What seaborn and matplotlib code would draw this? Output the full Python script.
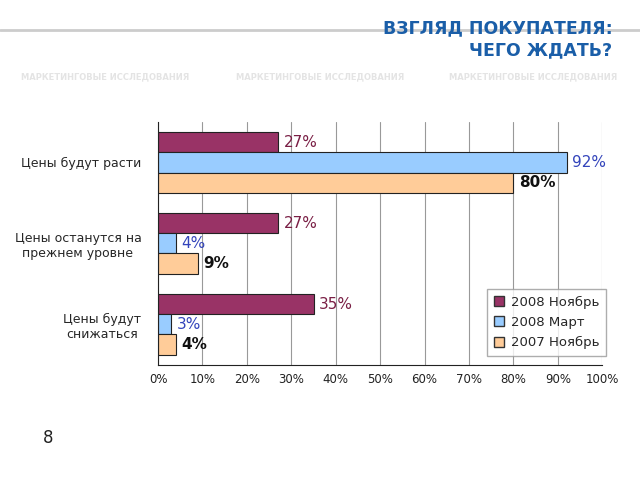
import pandas as pd
import matplotlib.pyplot as plt
import seaborn as sns
from matplotlib.ticker import FixedLocator, PercentFormatter
from matplotlib.patches import Patch

# data
categories = ['Цены будут расти', 'Цены останутся на\nпрежнем уровне', 'Цены будут\nснижаться']
series = ['2008 Ноябрь', '2008 Март', '2007 Ноябрь']
nov_2008 = [27, 27, 35]
mar_2008 = [92, 4, 3]
nov_2007 = [80, 9, 4]

colors = ['#993366', '#99CCFF', '#FFCC99']
label_colors = ['#7a1f45', '#3344bb', '#111111']

rows = []
for s, vals in zip(series, [nov_2008, mar_2008, nov_2007]):
    for c, v in zip(categories, vals):
        rows.append({'category': c, 'series': s, 'value': v})
df = pd.DataFrame(rows)

sns.set_style('white')
plt.rcParams['font.family'] = ['DejaVu Sans']

fig = plt.figure(figsize=(6.4, 4.8), dpi=100)
ax = fig.add_axes([0.247, 0.24, 0.694, 0.506])

sns.barplot(data=df, y='category', x='value', hue='series', orient='h',
            palette=colors, saturation=1, width=0.75, gap=0, edgecolor='#222222', linewidth=0.8,
            order=categories, hue_order=series, ax=ax, legend=False)

#value labels next to each bar
for cont, col in zip(ax.containers, label_colors):
    weight = 'bold' if col == '#111111' else 'normal'
    ax.bar_label(cont, labels=[f'{int(v)}%' for v in cont.datavalues], padding=4,
                 color=col, fontsize=11, fontweight=weight)

ax.set_xlim(0, 100)
ax.set_ylim(2.5, -0.5)
ax.xaxis.set_major_locator(FixedLocator(range(0, 101, 10)))
ax.xaxis.set_major_formatter(PercentFormatter(decimals=0))
ax.grid(axis='x', color='#999999', linewidth=0.8)
ax.set_axisbelow(True)
ax.set_xlabel('')
ax.set_ylabel('')
for side in ['top', 'right']:
    ax.spines[side].set_visible(False)
ax.spines['left'].set_color('#222222')
ax.spines['bottom'].set_color('#222222')
ax.tick_params(axis='x', direction='inout', length=5, labelsize=8.5, colors='#222222')
ax.tick_params(axis='y', length=0, labelsize=9, pad=12)
ax.yaxis.set_minor_locator(FixedLocator([-0.5, 0.5, 1.5, 2.5]))
ax.tick_params(axis='y', which='minor', length=4, direction='out', color='#222222')
for t in ax.get_yticklabels():
    t.set_multialignment('center')

handles = [Patch(facecolor=c, edgecolor='#333333', label=s) for c, s in zip(colors, series)]
fig.legend(handles=handles, loc='lower right', bbox_to_anchor=(0.957, 0.245),
           fontsize=9.5, frameon=True, fancybox=False, edgecolor='#999999',
           handlelength=0.8, handleheight=0.8, borderpad=0.5, labelspacing=0.55,
           handletextpad=0.5)

#header with faint watermark tagline
fig.add_artist(plt.Line2D([0, 1], [0.937, 0.937], color='#cccccc', linewidth=2))
for xw in [0.164, 0.5, 0.833]:
    fig.text(xw, 0.84, 'МАРКЕТИНГОВЫЕ ИССЛЕДОВАНИЯ', ha='center', va='center',
             fontsize=6, color='#e4e4e4', fontweight='bold')
fig.text(0.957, 0.96, 'ВЗГЛЯД ПОКУПАТЕЛЯ:\nЧЕГО ЖДАТЬ?', ha='right', va='top',
         color='#1a5ea8', fontsize=12.5, fontweight='bold', multialignment='right', linespacing=1.3)
fig.text(0.075, 0.088, '8', ha='center', va='center', fontsize=12, color='#222222')

plt.savefig('out.png', dpi=100)
